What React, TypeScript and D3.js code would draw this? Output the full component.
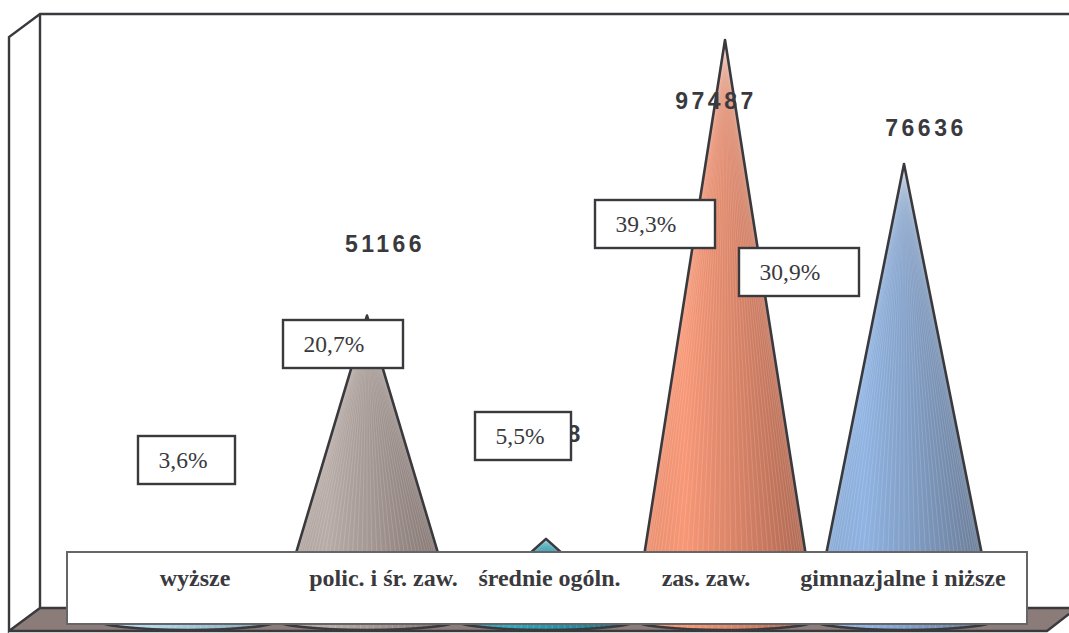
import React, { useEffect, useRef } from "react";
import * as d3 from "d3";

const categories = ["wyższe", "polic. i śr. zaw.", "średnie ogóln.", "zas. zaw.", "gimnazjalne i niższe"];
const values = [8930, 51166, 13638, 97487, 76636];
const valueLabels = ["", "51166", "13638", "97487", "76636"];
const shares = ["3,6%", "20,7%", "5,5%", "39,3%", "30,9%"];
const lightColors = ["#b4daee", "#b8aca7", "#2fa9bd", "#f79776", "#8fb3e2"];
const darkColors = ["#7fa0b0", "#7d6f6c", "#18707f", "#a9644f", "#66768f"];

// layout, per category
const legendLabelX = [195, 383.5, 549.5, 706, 903];
const valueLabelPos: [number, number][] = [[188, 461], [386, 244], [544, 434], [717, 101], [927, 128]];
const shareBoxes = [[138, 436, 97], [283, 320, 120], [475, 412, 96], [595, 200, 120], [739, 248, 120]];

const W = 1069, H = 633;
const INK = "#3a3a3e";

export default function App() {
  const ref = useRef<SVGSVGElement>(null);
  useEffect(() => {
    const svg = d3.select(ref.current!);
    svg.selectAll("*").remove();

    const x = d3.scalePoint<string>().domain(categories).range([188, 904]);
    const y = d3.scaleLinear().domain([0, 97487]).range([620, 40]);
    const baseRx = 91, baseRy = 10;

    const defs = svg.append("defs");
    categories.forEach((_, i) => {
      const g = defs.append("linearGradient").attr("id", `g${i}`).attr("x1", 0).attr("x2", 1).attr("y1", 0).attr("y2", 0);
      const mix = d3.interpolateRgb(lightColors[i], darkColors[i]);
      g.append("stop").attr("offset", "0%").attr("stop-color", mix(0.22));
      g.append("stop").attr("offset", "28%").attr("stop-color", lightColors[i]);
      g.append("stop").attr("offset", "100%").attr("stop-color", darkColors[i]);
    });

    // walls
    svg.append("polygon").attr("points", "9,37 40,14 40,608 9,631").attr("fill", "#fff");
    svg.append("rect").attr("x", 40).attr("y", 14).attr("width", W - 40).attr("height", 594).attr("fill", "#fff");
    // floor
    svg.append("polygon").attr("points", `40,608 ${W},608 ${W},614 1047,631 9,631`).attr("fill", "#8b7c79");
    const wall = d3.path();
    wall.moveTo(W, 14); wall.lineTo(40, 14); wall.lineTo(9, 37); wall.lineTo(9, 631); wall.lineTo(40, 608); wall.lineTo(W, 608);
    wall.moveTo(40, 14); wall.lineTo(40, 608);
    wall.moveTo(9, 631); wall.lineTo(1047, 631); wall.lineTo(W, 614);
    svg.append("path").attr("d", wall.toString()).attr("fill", "none").attr("stroke", INK).attr("stroke-width", 2.4);

    // cones
    const angles = d3.range(0, Math.PI + 0.001, Math.PI / 44);
    categories.forEach((c, i) => {
      const cx = x(c)!;
      const apex = y(values[i]);
      const base = y(0);
      const g = svg.append("g");
      const outline = `M${cx},${apex} L${cx + baseRx},${base} A${baseRx},${baseRy} 0 0 1 ${cx - baseRx},${base} Z`;
      g.append("path").attr("d", outline).attr("fill", `url(#g${i})`);
      // facet streaks
      g.selectAll("line").data(angles).join("line")
        .attr("x1", cx).attr("y1", apex)
        .attr("x2", (a) => cx + baseRx * Math.cos(a))
        .attr("y2", (a) => base + baseRy * Math.sin(a))
        .attr("stroke", "#fff").attr("stroke-opacity", 0.26).attr("stroke-width", 0.6);
      g.append("path").attr("d", outline).attr("fill", "none").attr("stroke", INK).attr("stroke-width", 2.6).attr("stroke-linejoin", "round");
    });

    // value labels
    svg.selectAll("text.val").data(valueLabels).join("text").attr("class", "val")
      .attr("x", (_, i) => valueLabelPos[i][0] - 1).attr("y", (_, i) => valueLabelPos[i][1] + 8)
      .attr("text-anchor", "middle")
      .attr("font-family", "'Liberation Sans', Arial, sans-serif").attr("font-weight", 700)
      .attr("font-size", 23).attr("letter-spacing", 3.5).attr("fill", INK)
      .text((d) => d);

    // share boxes
    const boxes = svg.selectAll("g.box").data(shares).join("g").attr("class", "box");
    boxes.append("rect")
      .attr("x", (_, i) => shareBoxes[i][0]).attr("y", (_, i) => shareBoxes[i][1])
      .attr("width", (_, i) => shareBoxes[i][2]).attr("height", 48)
      .attr("fill", "#fff").attr("stroke", INK).attr("stroke-width", 2.4);
    boxes.append("text")
      .attr("x", (_, i) => shareBoxes[i][0] + 20.5).attr("y", (_, i) => shareBoxes[i][1] + 32)
      .attr("font-family", "'Liberation Serif', 'Times New Roman', serif")
      .attr("font-size", 23.5).attr("fill", INK)
      .text((d) => d);

    // category strip
    svg.append("rect").attr("x", 67).attr("y", 552).attr("width", 960).attr("height", 72)
      .attr("fill", "#fff").attr("stroke", "#666669").attr("stroke-width", 2);
    svg.selectAll("text.cat").data(categories).join("text").attr("class", "cat")
      .attr("x", (_, i) => legendLabelX[i]).attr("y", 586)
      .attr("text-anchor", "middle")
      .attr("font-family", "'Liberation Serif', 'Times New Roman', serif").attr("font-weight", 700)
      .attr("font-size", 24).attr("fill", INK)
      .text((d) => d);
  }, []);
  return (
    <svg ref={ref} width={W} height={H} viewBox={`0 0 ${W} ${H}`}
      style={{ position: "absolute", left: 0, top: 0, display: "block", background: "#fff" }} />
  );
}
